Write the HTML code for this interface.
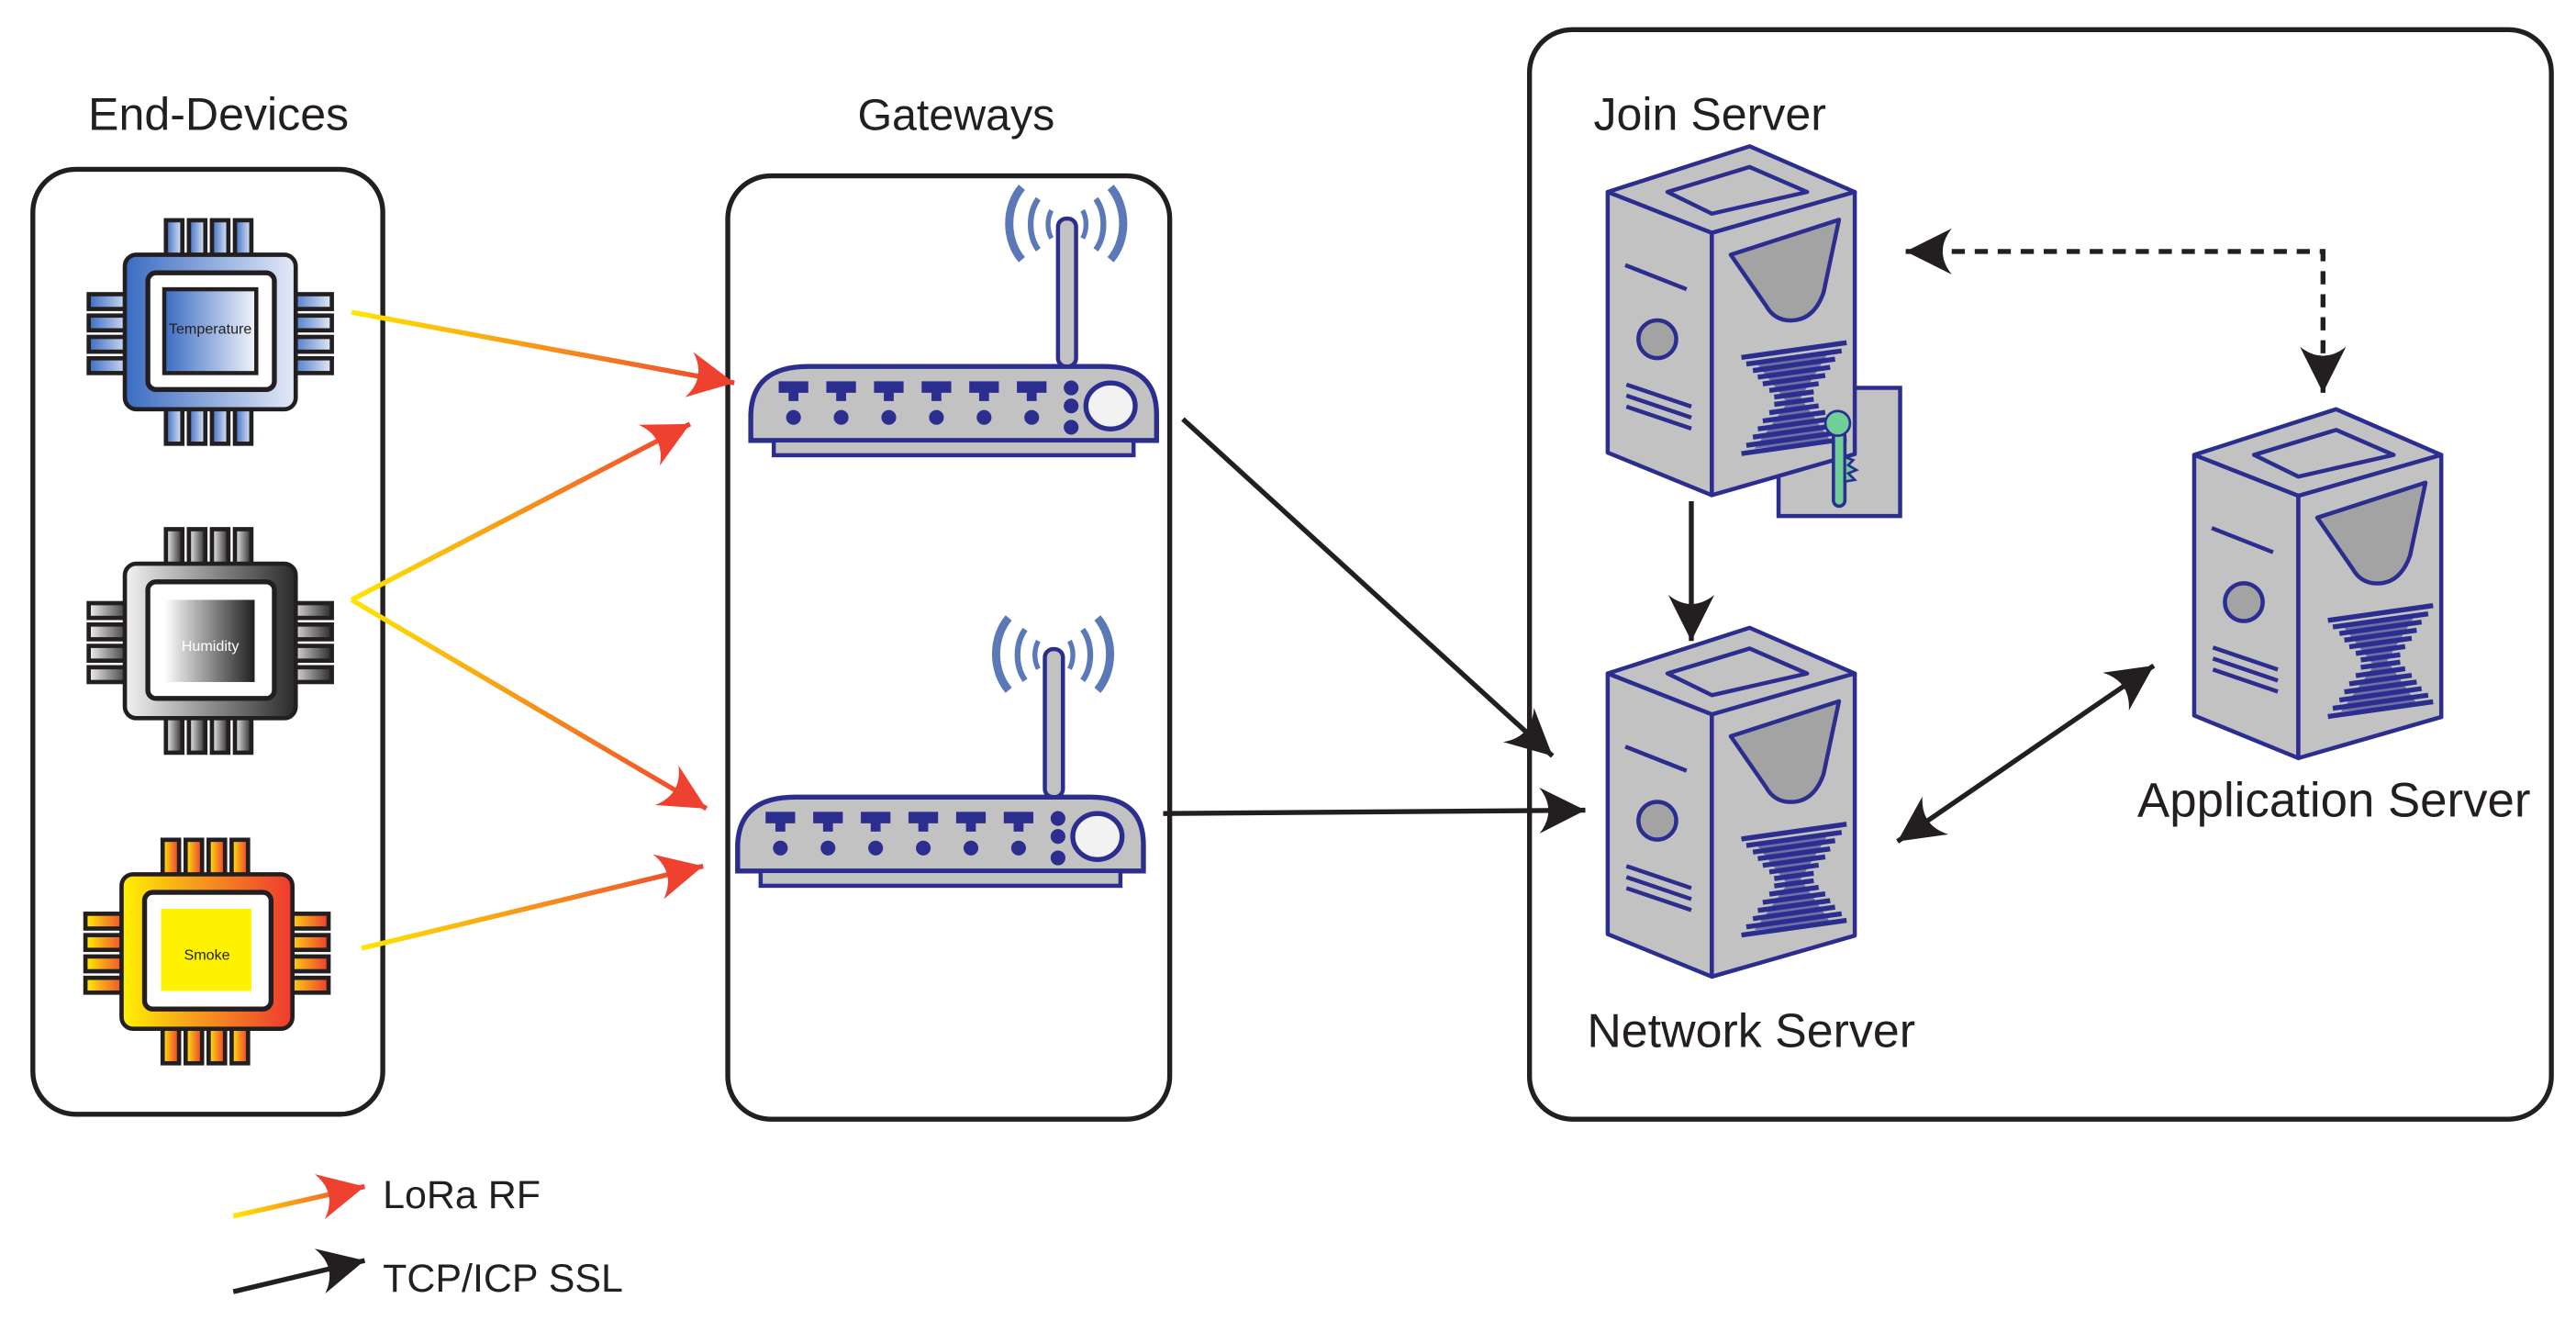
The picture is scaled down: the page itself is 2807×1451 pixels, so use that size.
<!DOCTYPE html>
<html><head><meta charset="utf-8"><style>
html,body{margin:0;padding:0;background:#fff;}
svg{display:block;}
text{font-family:"Liberation Sans",sans-serif;fill:#231f20;}
</style></head><body>
<svg width="2807" height="1451" viewBox="0 0 1568 810.5" xmlns="http://www.w3.org/2000/svg">
<defs>
 <marker id="mr" viewBox="-30 -16 32 32" markerWidth="32" markerHeight="32" refX="0" refY="0" orient="auto" markerUnits="userSpaceOnUse">
  <path d="M0,0 L-28,-14 Q-17,0 -28,14 Z" fill="#ef4130"/>
 </marker>
 <marker id="mb" viewBox="-30 -16 32 32" markerWidth="32" markerHeight="32" refX="0" refY="0" orient="auto-start-reverse" markerUnits="userSpaceOnUse">
  <path d="M0,0 L-28,-14 Q-17,0 -28,14 Z" fill="#231f20"/>
 </marker>
 <linearGradient id="gT" x1="0" x2="1" y1="0" y2="0"><stop offset="0" stop-color="#3a6cc2"/><stop offset="1" stop-color="#e4eaf7"/></linearGradient>
 <linearGradient id="gTi" x1="0" x2="1" y1="0" y2="0"><stop offset="0" stop-color="#3a6cc2"/><stop offset="1" stop-color="#f2f4fb"/></linearGradient>
 <linearGradient id="gH" x1="0" x2="1" y1="0" y2="0"><stop offset="0" stop-color="#f2f2f2"/><stop offset="1" stop-color="#2a2a2a"/></linearGradient>
 <linearGradient id="gHi" x1="0" x2="1" y1="0" y2="0"><stop offset="0" stop-color="#ffffff"/><stop offset="1" stop-color="#1f1f1f"/></linearGradient>
 <linearGradient id="gS" x1="0" x2="1" y1="0" y2="0"><stop offset="0" stop-color="#fff200"/><stop offset="0.4" stop-color="#f7a21b"/><stop offset="1" stop-color="#ee3a2f"/></linearGradient>
 <linearGradient id="l1" gradientUnits="userSpaceOnUse" x1="214" y1="190" x2="447" y2="233"><stop offset="0" stop-color="#ffe600"/><stop offset="1" stop-color="#ef4130"/></linearGradient>
 <linearGradient id="l2" gradientUnits="userSpaceOnUse" x1="214" y1="365" x2="420" y2="258"><stop offset="0" stop-color="#ffe600"/><stop offset="1" stop-color="#ef4130"/></linearGradient>
 <linearGradient id="l3" gradientUnits="userSpaceOnUse" x1="214" y1="365" x2="430" y2="492"><stop offset="0" stop-color="#ffe600"/><stop offset="1" stop-color="#ef4130"/></linearGradient>
 <linearGradient id="l4" gradientUnits="userSpaceOnUse" x1="220" y1="577" x2="428" y2="527"><stop offset="0" stop-color="#ffe600"/><stop offset="1" stop-color="#ef4130"/></linearGradient>
 <linearGradient id="l5" gradientUnits="userSpaceOnUse" x1="142" y1="740" x2="222" y2="722"><stop offset="0" stop-color="#ffe600"/><stop offset="1" stop-color="#ef4130"/></linearGradient>

 <g id="chip" stroke="#231f20" stroke-width="2.6">
  <rect x="-27" y="-68" width="10" height="24"/><rect x="-13" y="-68" width="10" height="24"/><rect x="1" y="-68" width="10" height="24"/><rect x="15" y="-68" width="10" height="24"/>
  <rect x="-27" y="44" width="10" height="24"/><rect x="-13" y="44" width="10" height="24"/><rect x="1" y="44" width="10" height="24"/><rect x="15" y="44" width="10" height="24"/>
  <rect x="-74" y="-23" width="26" height="9"/><rect x="-74" y="-10" width="26" height="9"/><rect x="-74" y="3" width="26" height="9"/><rect x="-74" y="16" width="26" height="9"/>
  <rect x="48" y="-23" width="26" height="9"/><rect x="48" y="-10" width="26" height="9"/><rect x="48" y="3" width="26" height="9"/><rect x="48" y="16" width="26" height="9"/>
  <rect x="-52" y="-47" width="104" height="94" rx="7"/>
 </g>

 <g id="router">
  <path d="M457,268 L457,252 Q458,223 492,223 L672,223 Q704,223 704,252 L704,268 Z" fill="#c2c2c2" stroke="#2b2d8f" stroke-width="3"/>
  <rect x="471" y="268" width="219" height="9" fill="#c2c2c2" stroke="#2b2d8f" stroke-width="2.5"/>
  <rect x="644" y="133" width="11" height="90" rx="5" fill="#c2c2c2" stroke="#2b2d8f" stroke-width="2.5"/>
  <g fill="none" stroke="#5b79b8" stroke-linecap="butt">
   <path d="M640,128 A10,14 0 0,0 640,145" stroke-width="3"/>
   <path d="M659,128 A10,14 0 0,1 659,145" stroke-width="3"/>
   <path d="M632,121 A16,22 0 0,0 632,152" stroke-width="3.5"/>
   <path d="M667,121 A16,22 0 0,1 667,152" stroke-width="3.5"/>
   <path d="M622,114 A24,30 0 0,0 622,158" stroke-width="5"/>
   <path d="M676,114 A24,30 0 0,1 676,158" stroke-width="5"/>
  </g>
  <g fill="#2b2d8f">
   <path d="M474,232 h18 v7 h-6 v5 h-6 v-5 h-6 z"/>
   <path d="M503,232 h18 v7 h-6 v5 h-6 v-5 h-6 z"/>
   <path d="M532,232 h18 v7 h-6 v5 h-6 v-5 h-6 z"/>
   <path d="M561,232 h18 v7 h-6 v5 h-6 v-5 h-6 z"/>
   <path d="M590,232 h18 v7 h-6 v5 h-6 v-5 h-6 z"/>
   <path d="M619,232 h18 v7 h-6 v5 h-6 v-5 h-6 z"/>
   <circle cx="483" cy="254" r="4.5"/><circle cx="512" cy="254" r="4.5"/><circle cx="541" cy="254" r="4.5"/><circle cx="570" cy="254" r="4.5"/><circle cx="599" cy="254" r="4.5"/><circle cx="628" cy="254" r="4.5"/>
   <circle cx="652" cy="236" r="4.5"/><circle cx="652" cy="247" r="4.5"/><circle cx="652" cy="260" r="4.5"/>
  </g>
  <ellipse cx="676" cy="247" rx="15" ry="14" fill="#f2f2f2" stroke="#2b2d8f" stroke-width="3"/>
 </g>

 <g id="server" stroke="#2b2d8f" stroke-width="2.5" stroke-linejoin="round">
  <path d="M978.6,116.8 L1065,89 L1129,116.8 L1042,141.7 Z" fill="#c2c2c2"/>
  <path d="M1015,116.8 L1065,101.6 L1100,116.8 L1042,130 Z" fill="#c2c2c2"/>
  <path d="M978.6,116.8 L1042,141.7 L1042,301.3 L978.6,275.4 Z" fill="#c2c2c2"/>
  <path d="M1042,141.7 L1129,116.8 L1129,276.3 L1042,301.3 Z" fill="#c2c2c2"/>
  <path d="M1053.5,155 L1119.4,133.7 L1110,178 Q1104,195 1090,195 Q1080,195 1075,186 Z" fill="#a3a3a3"/>
  <line x1="989.3" y1="161.3" x2="1026.6" y2="176" />
  <circle cx="1008.8" cy="206.4" r="11.5" fill="#a3a3a3"/>
  <line x1="990" y1="234" x2="1029.5" y2="247.4"/>
  <line x1="990" y1="240.7" x2="1029.5" y2="254.1"/>
  <line x1="990" y1="247.4" x2="1029.5" y2="260.8"/>
  <path d="M1070,222 L1112,216 L1096,242 L1114,268 L1068,273 L1088,245 Z" fill="#2b2d8f" stroke="none" opacity="0.55"/>
  <g stroke-width="3">
   <line x1="1060" y1="217.5" x2="1124" y2="208.5"/>
   <line x1="1063" y1="221.5" x2="1121" y2="213.5"/>
   <line x1="1067" y1="225.5" x2="1117" y2="218.5"/>
   <line x1="1070" y1="229.5" x2="1114" y2="223.5"/>
   <line x1="1073" y1="233.6" x2="1111" y2="228.4"/>
   <line x1="1077" y1="237.6" x2="1107" y2="233.4"/>
   <line x1="1080" y1="241.6" x2="1104" y2="238.4"/>
   <line x1="1080" y1="246.1" x2="1104" y2="242.9"/>
   <line x1="1077" y1="251.1" x2="1107" y2="246.9"/>
   <line x1="1073" y1="256.1" x2="1111" y2="250.9"/>
   <line x1="1070" y1="261" x2="1114" y2="255"/>
   <line x1="1067" y1="266" x2="1117" y2="259"/>
   <line x1="1063" y1="271" x2="1121" y2="263"/>
   <line x1="1060" y1="276" x2="1124" y2="267"/>
  </g>
 </g>
</defs>

<rect x="20" y="103" width="213" height="575" rx="26" fill="none" stroke="#231f20" stroke-width="3"/>
<rect x="443" y="107" width="269" height="574" rx="26" fill="none" stroke="#231f20" stroke-width="3"/>
<rect x="931" y="18" width="622" height="663" rx="26" fill="none" stroke="#231f20" stroke-width="3"/>

<text x="133" y="79" font-size="28" text-anchor="middle">End-Devices</text>
<text x="582" y="79" font-size="27" text-anchor="middle">Gateways</text>
<text x="970" y="79" font-size="28">Join Server</text>
<text x="966" y="637" font-size="29">Network Server</text>
<text x="1301" y="497" font-size="29.5">Application Server</text>

<g transform="translate(128,202)" fill="url(#gT)"><use href="#chip"/></g>
<rect x="90" y="166" width="77" height="71" rx="5" fill="#fff" stroke="#231f20" stroke-width="3"/>
<rect x="100" y="176" width="56" height="51" fill="url(#gTi)" stroke="#231f20" stroke-width="2.5"/>
<text x="128" y="203" font-size="9" text-anchor="middle">Temperature</text>

<g transform="translate(128,390)" fill="url(#gH)"><use href="#chip"/></g>
<rect x="90" y="354" width="77" height="71" rx="5" fill="#fff" stroke="#231f20" stroke-width="3"/>
<rect x="100" y="365" width="55" height="50" fill="url(#gHi)"/>
<text x="128" y="396" font-size="9" text-anchor="middle" style="fill:#fff">Humidity</text>

<g transform="translate(126,579)" fill="url(#gS)"><use href="#chip"/></g>
<rect x="88" y="543" width="77" height="71" rx="5" fill="#fff" stroke="#231f20" stroke-width="3"/>
<rect x="98" y="553" width="55" height="50" fill="#fff200"/>
<text x="126" y="584" font-size="9" text-anchor="middle">Smoke</text>

<use href="#router"/>
<use href="#router" transform="translate(-8,262)"/>

<rect x="1082.6" y="236" width="74" height="78" fill="#c2c2c2" stroke="#2b2d8f" stroke-width="2.5"/>
<use href="#server"/>
<rect x="1116" y="262" width="7" height="46" rx="3.5" fill="#6fcf97" stroke="#2b2d8f" stroke-width="2"/>
<path d="M1123,278 l5,2 l-3,3 l5,3 l-5,2 l4,4 l-6,1 z" fill="#6fcf97" stroke="#2b2d8f" stroke-width="1.5"/>
<circle cx="1118.6" cy="257.6" r="7.5" fill="#6fcf97" stroke="#2b2d8f" stroke-width="1.5"/>
<use href="#server" transform="translate(0,293)"/>
<use href="#server" transform="translate(357,160)"/>

<g stroke-width="3" fill="none" marker-end="url(#mr)">
 <line x1="214" y1="190" x2="447" y2="233" stroke="url(#l1)"/>
 <line x1="214" y1="365" x2="420" y2="258" stroke="url(#l2)"/>
 <line x1="214" y1="365" x2="430" y2="492" stroke="url(#l3)"/>
 <line x1="220" y1="577" x2="428" y2="527" stroke="url(#l4)"/>
 <line x1="142" y1="740" x2="222" y2="722" stroke="url(#l5)"/>
</g>

<g stroke="#231f20" stroke-width="3" fill="none">
 <line x1="720" y1="255" x2="945" y2="460" marker-end="url(#mb)"/>
 <line x1="708" y1="495" x2="965" y2="493" marker-end="url(#mb)"/>
 <line x1="1029.5" y1="305" x2="1029.5" y2="390" marker-end="url(#mb)"/>
 <line x1="1155" y1="512" x2="1311" y2="405" marker-start="url(#mb)" marker-end="url(#mb)"/>
 <line x1="142" y1="786" x2="222" y2="767" marker-end="url(#mb)"/>
 <path d="M1160,153 L1414,153 L1414,239" stroke-dasharray="8 6" marker-start="url(#mb)" marker-end="url(#mb)"/>
</g>

<text x="233" y="735" font-size="24">LoRa RF</text>
<text x="233" y="786" font-size="24">TCP/ICP SSL</text>
</svg>
</body></html>
